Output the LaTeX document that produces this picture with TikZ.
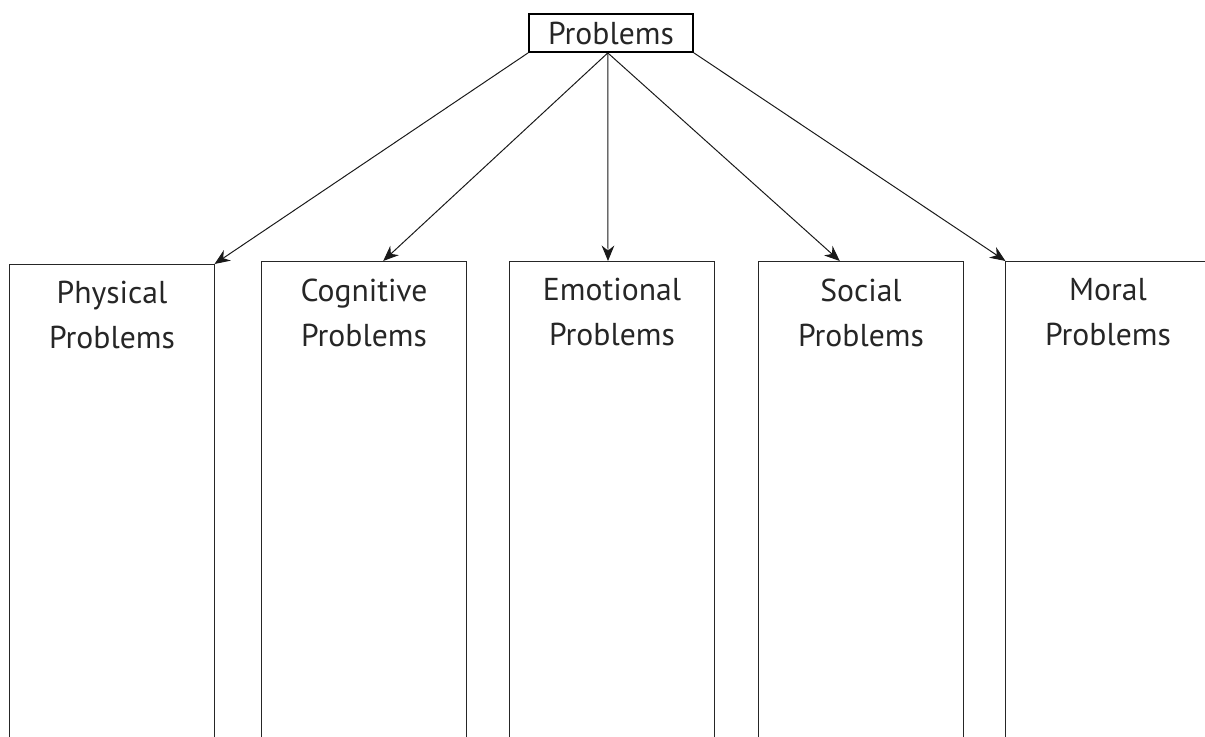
\documentclass[tikz,border=0pt]{standalone}
\usepackage{fontspec}
\setmainfont{PT Sans}
\usetikzlibrary{arrows.meta, positioning, calc}
\tikzset{
  root/.style={rectangle, draw=black, line width=1.3pt, minimum width=4.1cm,
               minimum height=0.95cm, inner sep=0pt, text=black!85,
               font=\fontsize{22.5}{32}\selectfont},
  panel/.style={rectangle, draw=black!85, line width=0.7pt, minimum width=5.1cm,
                minimum height=13cm, anchor=north, inner sep=0pt},
  caption/.style={align=center, font=\fontsize{22.5}{32}\selectfont, inner sep=0pt,
                  text=black!85, anchor=north},
  arrow/.style={-{Stealth[length=11pt, width=9pt]}, draw=black!90, line width=0.7pt},
}
\begin{document}
\begin{tikzpicture}[x=0.025cm, y=-0.025cm]
  \useasboundingbox (0,0) rectangle (1205,737);
  \clip (0,0) rectangle (1205,737);

  % Nodes
  \node[root] (top) at (611,33) {Problems};
  \node[panel] (phys) at (112,264) {};
  \node[panel] (cogn) at (364,261) {};
  \node[panel] (emot) at (612,261) {};
  \node[panel] (soci) at (861,261) {};
  \node[panel] (mora) at (1108,261) {};

  \node[caption, below=0.43cm of phys.north] {Physical\\Problems};
  \node[caption, below=0.43cm of cogn.north] {Cognitive\\Problems};
  \node[caption, below=0.43cm of emot.north] {Emotional\\Problems};
  \node[caption, below=0.43cm of soci.north] {Social\\Problems};
  \node[caption, below=0.43cm of mora.north] {Moral\\Problems};

  % Edges
  \draw[arrow] (top.south west) -- (phys.north east);
  \draw[arrow] ([xshift=-0.08cm]top.south) -- ([xshift=0.48cm]cogn.north);
  \draw[arrow] ([xshift=-0.08cm]top.south) -- ([xshift=-0.1cm]emot.north);
  \draw[arrow] ([xshift=-0.08cm]top.south) -- ([xshift=-0.53cm]soci.north);
  \draw[arrow] (top.south east) -- (mora.north west);

\end{tikzpicture}
\end{document}
